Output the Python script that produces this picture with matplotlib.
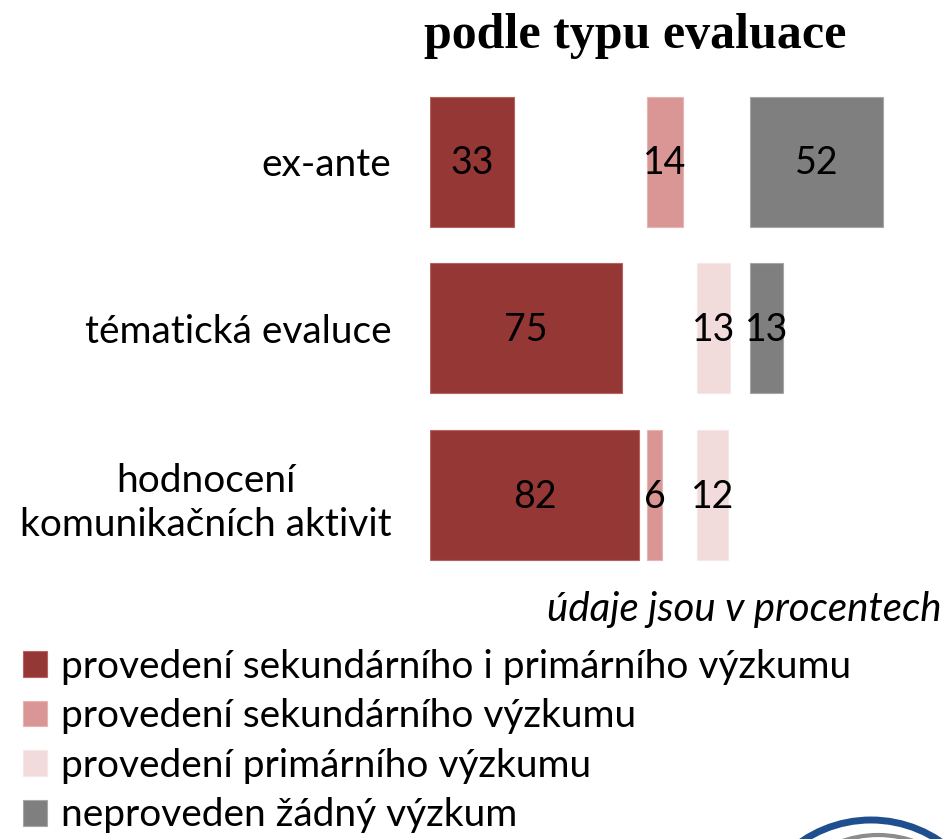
import matplotlib
matplotlib.use("Agg")
import matplotlib.pyplot as plt
from matplotlib.patches import Ellipse
import numpy as np

categories = ["ex-ante", "tématická evaluce", "hodnocení\nkomunikačních aktivit"]
series_names = [
    "provedení sekundárního i primárního výzkumu",
    "provedení sekundárního výzkumu",
    "provedení primárního výzkumu",
    "neproveden žádný výzkum",
]
sec_and_prim = [33, 75, 82]
sec_only = [14, 0, 6]
prim_only = [0, 13, 12]
no_research = [52, 13, 0]
series_values = [sec_and_prim, sec_only, prim_only, no_research]
colors = ["#953735", "#D99694", "#F2DCDB", "#7F7F7F"]
edges = ["#B8625F", "#E6B4B3", "#F7E8E8", "#A6A6A6"]
col_offsets = [0, 85, 104.7, 125.5]  # layout: start of each small-multiple column

W, H = 946, 839
fig = plt.figure(figsize=(W / 100, H / 100), dpi=100)
fig.patch.set_facecolor("white")

sans = ["Lato", "DejaVu Sans"]
ax = fig.add_axes([430.3 / W, (H - 580) / H, 515.7 / W, 500 / H])
ax.set_xlim(0, 515.7 / 2.55)
ax.set_ylim(2.51, -0.49)
y = np.arange(len(categories))

handles = []
for vals, off, c, ec, name in zip(series_values, col_offsets, colors, edges, series_names):
    v = np.array(vals, dtype=float)
    mask = v > 0
    bars = ax.barh(y[mask], v[mask], left=off, height=0.78, color=c,
                   edgecolor=ec, linewidth=0.8, label=name)
    handles.append(bars)
    for yi, vi in zip(y[mask], v[mask]):
        ax.text(off + vi / 2, yi + 0.01, f"{int(vi)}", ha="center", va="center",
                fontsize=27, family=sans, color="black")

ax.set_yticks(y)
ax.set_yticklabels(categories, fontsize=28, family=sans)
for lbl in ax.get_yticklabels():
    lbl.set_multialignment("center")
    lbl.set_linespacing(1.3)
ax.tick_params(axis="y", length=0, pad=28)
ax.set_xticks([])
for s in ax.spines.values():
    s.set_visible(False)

fig.text(635 / W, 1 - 36 / H, "podle typu evaluace", ha="center", va="center",
         fontsize=36, fontweight="bold", family=["Liberation Serif", "DejaVu Serif"])
fig.text(942 / W, 1 - 610 / H, "údaje jsou v procentech", ha="right", va="center",
         fontsize=29, style="italic", family=sans)

leg = fig.legend(handles=handles, labels=series_names, loc="upper left",
                 bbox_to_anchor=(7 / W, 1 - 633 / H), frameon=False,
                 prop={"family": sans, "size": 28},
                 handlelength=0.62, handleheight=0.65, handletextpad=0.36,
                 labelspacing=0.35, borderaxespad=0)

# partial logo ring at bottom right
fig.patches.append(Ellipse((871 / W, (H - 943) / H), 2 * 123 / W, 2 * 123 / H,
                           transform=fig.transFigure, fill=False,
                           edgecolor="#1F4F8F", linewidth=5))
fig.patches.append(Ellipse((878 / W, (H - 943) / H), 2 * 108 / W, 2 * 108 / H,
                           transform=fig.transFigure, fill=False,
                           edgecolor="#8C8C8C", linewidth=3))

fig.savefig("out.png", dpi=100, facecolor="white")
